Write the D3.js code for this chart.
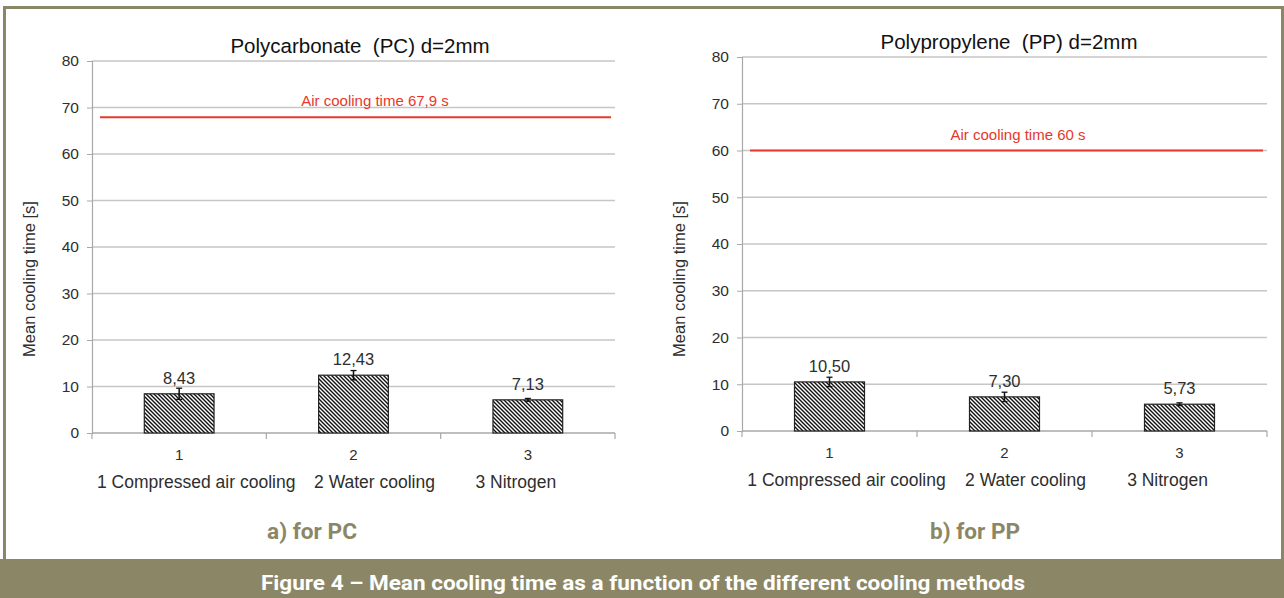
<!DOCTYPE html>
<html>
<head>
<meta charset="utf-8">
<script src="https://cdn.jsdelivr.net/npm/d3@7/dist/d3.min.js"></script>
<style>
  html, body { margin: 0; padding: 0; background: #ffffff; }
  svg { display: block; }
  text { font-family: "Liberation Sans", Arial, sans-serif; }
</style>
</head>
<body>
<svg id="fig" width="1284" height="598"></svg>
<script>
// ---- data ----
const categories = ["1", "2", "3"];
const methodLabels = ["1 Compressed air cooling", "2 Water cooling", "3 Nitrogen"];
const yTicks = [0, 10, 20, 30, 40, 50, 60, 70, 80];

const pcValues = [8.43, 12.43, 7.13];
const pcErrors = [1.2, 1.0, 0.3];
const pcAirTime = 67.9;

const ppValues = [10.50, 7.30, 5.73];
const ppErrors = [1.0, 1.0, 0.3];
const ppAirTime = 60;

const titles = ["Polycarbonate  (PC) d=2mm", "Polypropylene  (PP) d=2mm"];
const airLabels = ["Air cooling time 67,9 s", "Air cooling time 60 s"];
const subCaptions = ["a) for PC", "b) for PP"];
const figureCaption = "Figure 4 \u2013 Mean cooling time as a function of the different cooling methods";

// ---- styling ----
const olive = "#8b8766";
const gridColor = "#c6c6c6";
const axisColor = "#a8a8a8";
const textColor = "#2e2e2e";
const red = "#e8372b";

const svg = d3.select("#fig");
const W = 1284, H = 598;

// hatch pattern for bars
const defs = svg.append("defs");
const pat = defs.append("pattern")
  .attr("id", "hatch")
  .attr("patternUnits", "userSpaceOnUse")
  .attr("width", 4).attr("height", 4);
pat.append("rect").attr("width", 4).attr("height", 4).attr("fill", "#ffffff");
pat.append("path")
  .attr("d", "M-1,-1 L5,5 M-1,3 L1,5 M3,-1 L5,1")
  .attr("stroke", "#111111").attr("stroke-width", 1.4);

// frame and caption banner
svg.append("rect").attr("x", 0).attr("y", 0).attr("width", W).attr("height", H).attr("fill", "#ffffff");
svg.append("rect")
  .attr("x", 4.5).attr("y", 7.5).attr("width", 1278).attr("height", 570)
  .attr("fill", "none").attr("stroke", olive).attr("stroke-width", 3);
svg.append("rect").attr("x", 0).attr("y", 559).attr("width", W).attr("height", 39).attr("fill", olive);
svg.append("text")
  .attr("x", 643).attr("y", 590)
  .attr("text-anchor", "middle")
  .attr("fill", "#ffffff")
  .style("font-family", "'Liberation Sans Narrow', 'Roboto', 'Liberation Sans', sans-serif")
  .style("font-weight", "bold")
  .style("font-size", "20px")
  .attr("textLength", 764).attr("lengthAdjust", "spacingAndGlyphs")
  .text(figureCaption);

// one panel
function drawPanel(cfg) {
  const g = svg.append("g");
  const x = d3.scaleBand().domain(categories)
    .range([cfg.left, cfg.right]).paddingInner(0.6).paddingOuter(0.3);
  const y = d3.scaleLinear().domain([0, 80]).range([cfg.bottom, cfg.top]);

  // gridlines
  g.append("g").selectAll("line").data(yTicks.filter(d => d > 0)).join("line")
    .attr("x1", cfg.left).attr("x2", cfg.right)
    .attr("y1", d => y(d)).attr("y2", d => y(d))
    .attr("stroke", gridColor).attr("stroke-width", 1.5);

  // y axis
  const yAxis = g.append("g")
    .attr("transform", `translate(${cfg.left},0)`)
    .call(d3.axisLeft(y).tickValues(yTicks).tickSize(5).tickPadding(8));
  yAxis.select(".domain").attr("stroke", axisColor).attr("stroke-width", 1.2);
  yAxis.selectAll(".tick line").attr("stroke", axisColor);
  yAxis.selectAll(".tick text")
    .attr("fill", textColor)
    .style("font-family", "'Liberation Sans', Arial, sans-serif")
    .style("font-size", "15.5px");

  // x axis with ticks at category boundaries
  const xAxisG = g.append("g");
  xAxisG.append("line")
    .attr("x1", cfg.left).attr("x2", cfg.right)
    .attr("y1", cfg.bottom).attr("y2", cfg.bottom)
    .attr("stroke", axisColor).attr("stroke-width", 1.5);
  const step = x.step();
  const boundaries = d3.range(categories.length + 1).map(i => cfg.left + i * step);
  xAxisG.selectAll("line.tk").data(boundaries).join("line")
    .attr("class", "tk")
    .attr("x1", d => d).attr("x2", d => d)
    .attr("y1", cfg.bottom).attr("y2", cfg.bottom + 6)
    .attr("stroke", axisColor).attr("stroke-width", 1.2);
  xAxisG.selectAll("text").data(categories).join("text")
    .attr("x", d => x(d) + x.bandwidth() / 2)
    .attr("y", cfg.bottom + 27)
    .attr("text-anchor", "middle")
    .attr("fill", textColor)
    .style("font-size", "15px")
    .text(d => d);

  // method names row
  const offsets = [17, 21, -12];
  g.append("g").selectAll("text").data(methodLabels).join("text")
    .attr("x", (d, i) => x(categories[i]) + x.bandwidth() / 2 + offsets[i])
    .attr("y", cfg.bottom + 55)
    .attr("text-anchor", "middle")
    .attr("fill", textColor)
    .style("font-size", "17.5px")
    .text(d => d);

  // bars
  g.append("g").selectAll("rect").data(cfg.values).join("rect")
    .attr("x", (d, i) => x(categories[i]))
    .attr("y", d => y(d))
    .attr("width", x.bandwidth())
    .attr("height", d => y(0) - y(d))
    .attr("fill", "url(#hatch)")
    .attr("stroke", "#222222").attr("stroke-width", 1.2);

  // error bars
  const eb = g.append("g").selectAll("g").data(cfg.values).join("g");
  eb.append("line")
    .attr("x1", (d, i) => x(categories[i]) + x.bandwidth() / 2)
    .attr("x2", (d, i) => x(categories[i]) + x.bandwidth() / 2)
    .attr("y1", (d, i) => y(d + cfg.errors[i]))
    .attr("y2", (d, i) => y(d - cfg.errors[i]))
    .attr("stroke", "#111").attr("stroke-width", 1.5);
  eb.append("line")
    .attr("x1", (d, i) => x(categories[i]) + x.bandwidth() / 2 - 3)
    .attr("x2", (d, i) => x(categories[i]) + x.bandwidth() / 2 + 3)
    .attr("y1", (d, i) => y(d + cfg.errors[i]))
    .attr("y2", (d, i) => y(d + cfg.errors[i]))
    .attr("stroke", "#111").attr("stroke-width", 1.3);
  eb.append("line")
    .attr("x1", (d, i) => x(categories[i]) + x.bandwidth() / 2 - 3)
    .attr("x2", (d, i) => x(categories[i]) + x.bandwidth() / 2 + 3)
    .attr("y1", (d, i) => y(d - cfg.errors[i]))
    .attr("y2", (d, i) => y(d - cfg.errors[i]))
    .attr("stroke", "#111").attr("stroke-width", 1.3);

  // value labels (decimal comma)
  const fmt = d3.format(".2f");
  g.append("g").selectAll("text").data(cfg.values).join("text")
    .attr("x", (d, i) => x(categories[i]) + x.bandwidth() / 2)
    .attr("y", d => y(d) - 10)
    .attr("text-anchor", "middle")
    .attr("fill", textColor)
    .style("font-size", "16.5px")
    .text(d => fmt(d).replace(".", ","));

  // reference line for plain air cooling
  g.append("line")
    .attr("x1", cfg.left + 8).attr("x2", cfg.right - 4)
    .attr("y1", y(cfg.air)).attr("y2", y(cfg.air))
    .attr("stroke", red).attr("stroke-width", 2.2);
  g.append("text")
    .attr("x", cfg.airLabelX)
    .attr("y", y(cfg.air) - 11)
    .attr("text-anchor", "middle")
    .attr("fill", red)
    .style("font-size", "15px")
    .text(cfg.airLabel);

  // chart title
  g.append("text")
    .attr("x", cfg.titleX).attr("y", cfg.top - 8)
    .attr("text-anchor", "middle")
    .attr("fill", "#111")
    .style("font-size", "20.5px")
    .style("white-space", "pre")
    .attr("xml:space", "preserve")
    .text(cfg.title);

  // y axis title
  g.append("text")
    .attr("transform", `translate(${cfg.yTitleX},279) rotate(-90)`)
    .attr("text-anchor", "middle")
    .attr("fill", textColor)
    .style("font-size", "16.5px")
    .text("Mean cooling time [s]");

  // panel caption
  g.append("text")
    .attr("x", cfg.subX).attr("y", 539)
    .attr("text-anchor", "middle")
    .attr("fill", olive)
    .style("font-family", "'Liberation Sans Narrow', 'Roboto', 'Liberation Sans', sans-serif")
    .style("font-weight", "bold")
    .style("font-size", "22px")
    .attr("textLength", 90).attr("lengthAdjust", "spacingAndGlyphs")
    .text(cfg.sub);
}

drawPanel({
  left: 92, right: 615, top: 61, bottom: 433,
  values: pcValues, errors: pcErrors, air: pcAirTime,
  airLabel: airLabels[0], airLabelX: 375,
  title: titles[0], titleX: 360, yTitleX: 35,
  sub: subCaptions[0], subX: 312
});
drawPanel({
  left: 742, right: 1267, top: 57, bottom: 431,
  values: ppValues, errors: ppErrors, air: ppAirTime,
  airLabel: airLabels[1], airLabelX: 1018,
  title: titles[1], titleX: 1009, yTitleX: 685,
  sub: subCaptions[1], subX: 975
});
</script>
</body>
</html>
